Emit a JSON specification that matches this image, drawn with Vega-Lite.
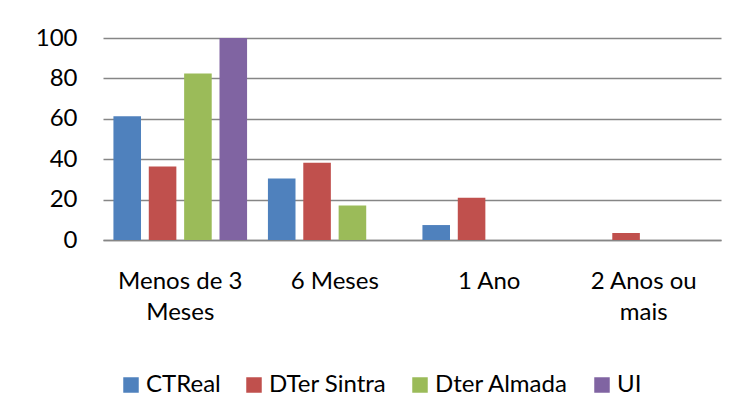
{
  "$schema": "https://vega.github.io/schema/vega-lite/v6.json",
  "width": 618,
  "height": 202,
  "autosize": {"type": "none"},
  "padding": {"left": 103, "top": 38, "right": 18, "bottom": 178},
  "background": "white",
  "data": {
    "values": [
      {"periodo": "Menos de 3 Meses", "serie": "CTReal", "valor": 61.3},
      {"periodo": "Menos de 3 Meses", "serie": "DTer Sintra", "valor": 36.4},
      {"periodo": "Menos de 3 Meses", "serie": "Dter Almada", "valor": 82.4},
      {"periodo": "Menos de 3 Meses", "serie": "UI", "valor": 100},
      {"periodo": "6 Meses", "serie": "CTReal", "valor": 30.5},
      {"periodo": "6 Meses", "serie": "DTer Sintra", "valor": 38.2},
      {"periodo": "6 Meses", "serie": "Dter Almada", "valor": 17.1},
      {"periodo": "6 Meses", "serie": "UI", "valor": 0},
      {"periodo": "1 Ano", "serie": "CTReal", "valor": 7.4},
      {"periodo": "1 Ano", "serie": "DTer Sintra", "valor": 20.9},
      {"periodo": "1 Ano", "serie": "Dter Almada", "valor": 0},
      {"periodo": "1 Ano", "serie": "UI", "valor": 0},
      {"periodo": "2 Anos ou mais", "serie": "CTReal", "valor": 0},
      {"periodo": "2 Anos ou mais", "serie": "DTer Sintra", "valor": 3.5},
      {"periodo": "2 Anos ou mais", "serie": "Dter Almada", "valor": 0},
      {"periodo": "2 Anos ou mais", "serie": "UI", "valor": 0}
    ]
  },
  "mark": {"type": "bar"},
  "encoding": {
    "x": {
      "field": "periodo",
      "type": "nominal",
      "sort": ["Menos de 3 Meses", "6 Meses", "1 Ano", "2 Anos ou mais"],
      "scale": {"paddingInner": 0.135, "paddingOuter": 0.0675},
      "axis": {
        "title": null,
        "labelAngle": 0,
        "ticks": false,
        "tickSize": 0,
        "domain": true,
        "domainColor": "#868686",
        "domainWidth": 1.5,
        "labelPadding": 29,
        "labelFontSize": 24,
        "labelLineHeight": 31,
        "labelBaseline": "top",
        "labelColor": "#000000",
        "labelFont": "Lato",
        "labelExpr": "datum.value == 'Menos de 3 Meses' ? ['Menos de 3', 'Meses'] : datum.value == '2 Anos ou mais' ? ['2 Anos ou', 'mais'] : datum.value"
      }
    },
    "xOffset": {
      "field": "serie",
      "type": "nominal",
      "sort": ["CTReal", "DTer Sintra", "Dter Almada", "UI"],
      "scale": {"paddingInner": 0.22, "paddingOuter": 0}
    },
    "y": {
      "field": "valor",
      "type": "quantitative",
      "scale": {"domain": [0, 100], "nice": false},
      "axis": {
        "title": null,
        "values": [0, 20, 40, 60, 80, 100],
        "ticks": false,
        "tickSize": 0,
        "domain": false,
        "grid": true,
        "gridColor": "#868686",
        "gridWidth": 1.5,
        "labelPadding": 26,
        "labelFontSize": 24,
        "labelColor": "#000000",
        "labelFont": "Lato"
      }
    },
    "color": {
      "field": "serie",
      "type": "nominal",
      "sort": ["CTReal", "DTer Sintra", "Dter Almada", "UI"],
      "scale": {
        "domain": ["CTReal", "DTer Sintra", "Dter Almada", "UI"],
        "range": ["#4F81BD", "#C0504D", "#9BBB59", "#8064A2"]
      },
      "legend": {
        "title": null,
        "orient": "none",
        "direction": "horizontal",
        "legendX": 16,
        "legendY": 335,
        "symbolType": "square",
        "symbolSize": 240,
        "symbolStrokeWidth": 0,
        "labelOffset": 3,
        "columnPadding": 21,
        "labelFontSize": 24,
        "labelFont": "Lato",
        "labelColor": "#000000",
        "labelLimit": 300
      }
    }
  },
  "config": {
    "view": {"stroke": null}
  }
}
